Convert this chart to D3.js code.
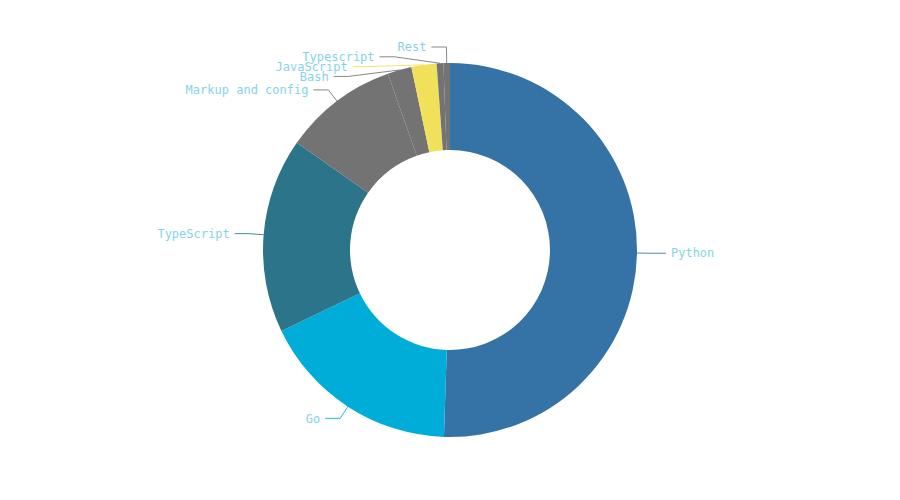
<!DOCTYPE html>
<html>
<head>
<meta charset="utf-8">
<script src="https://cdn.jsdelivr.net/npm/d3@7"></script>
<style>
  html, body { margin: 0; padding: 0; background: #ffffff; }
  svg { display: block; }
</style>
</head>
<body>
<svg id="chart" width="900" height="500"></svg>
<script>
const categories = ["Python", "Go", "TypeScript", "Markup and config", "Bash", "JavaScript", "Typescript", "Rest"];
const values = [50.5, 17.36, 16.83, 9.89, 2.08, 2.17, 0.58, 0.56];
const colors = ["#3572A5", "#00ADD8", "#2b7489", "#737373", "#737373", "#f1e05a", "#737373", "#737373"];

const width = 900, height = 500;
const cx = 450, cy = 250;
const outerR = 187, innerR = 100;
const elbowR = 201;
const topLimit = 203;
const spacing = 9.8;
const hLen = 15, textGap = 5;

const data = categories.map((c, i) => ({ name: c, value: values[i], color: colors[i] }));

const svg = d3.select("#chart");
const g = svg.append("g").attr("transform", `translate(${cx},${cy})`);

const pie = d3.pie().value(d => d.value).sort(null);
const arcs = pie(data);
const arc = d3.arc().innerRadius(innerR).outerRadius(outerR);

g.selectAll("path.slice")
  .data(arcs)
  .join("path")
  .attr("class", "slice")
  .attr("d", arc)
  .attr("fill", d => d.data.color);

// label layout
const labels = arcs.map(a => {
  const mid = (a.startAngle + a.endAngle) / 2;
  const side = Math.sin(mid) >= 0 ? 1 : -1;
  return {
    a, mid, side,
    start: [Math.sin(mid) * outerR, -Math.cos(mid) * outerR],
    nx: Math.sin(mid) * elbowR,
    y: -Math.cos(mid) * elbowR
  };
});

// mutual relaxation of overlapping labels per side, clamped at the top/bottom
[-1, 1].forEach(side => {
  const group = labels.filter(l => l.side === side).sort((p, q) => p.y - q.y);
  for (let iter = 0; iter < 400; iter++) {
    let moved = false;
    for (let i = 1; i < group.length; i++) {
      const gap = group[i].y - group[i - 1].y;
      if (gap < spacing) {
        const d = (spacing - gap) / 2;
        group[i - 1].y -= d;
        group[i].y += d;
        moved = true;
      }
    }
    group.forEach(l => { l.y = Math.max(-topLimit, Math.min(topLimit, l.y)); });
    if (!moved) break;
  }
});

labels.forEach(l => {
  const y = l.y;
  const circX = Math.sqrt(Math.max(0, elbowR * elbowR - y * y));
  const x = l.side * Math.max(Math.abs(l.nx), circX);
  l.elbow = [x, y];
  l.end = [x + l.side * hLen, y];
});

g.selectAll("polyline.conn")
  .data(labels)
  .join("polyline")
  .attr("class", "conn")
  .attr("points", d => [d.start, d.elbow, d.end].map(p => p.join(",")).join(" "))
  .attr("fill", "none")
  .attr("stroke", d => d.a.data.color)
  .attr("stroke-opacity", 0.85)
  .attr("stroke-width", 1);

g.selectAll("text.lbl")
  .data(labels)
  .join("text")
  .attr("class", "lbl")
  .attr("x", d => d.end[0] + d.side * textGap)
  .attr("y", d => d.end[1])
  .attr("dy", "0.35em")
  .attr("text-anchor", d => d.side > 0 ? "start" : "end")
  .attr("font-family", "'DejaVu Sans Mono', monospace")
  .attr("font-size", 12)
  .attr("fill", "#86d3e8")
  .text(d => d.a.data.name);
</script>
</body>
</html>
